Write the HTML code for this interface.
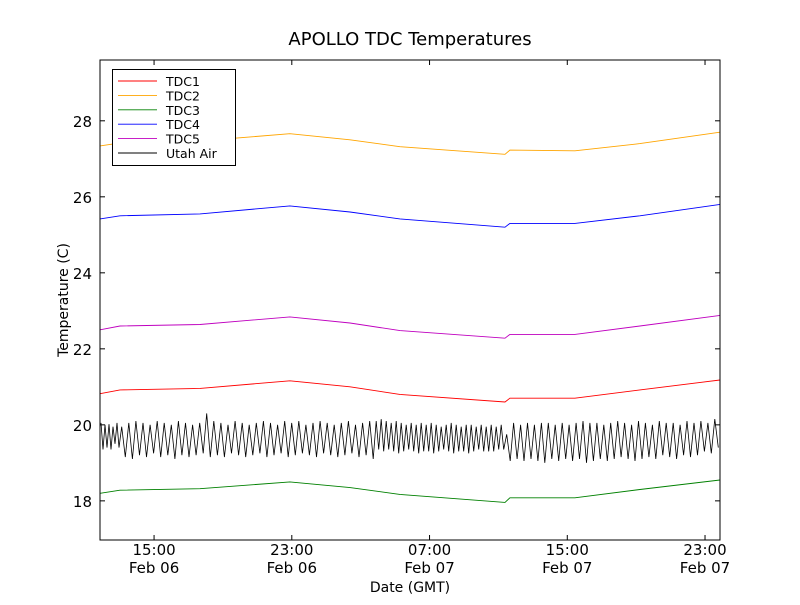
<!DOCTYPE html>
<html><head><meta charset="utf-8"><style>
body{margin:0;background:#fff}
svg text{font-family:"DejaVu Sans","Liberation Sans",sans-serif}
</style></head><body>
<svg id="c" width="800" height="600" xmlns="http://www.w3.org/2000/svg">
<rect width="800" height="600" fill="#fff"/>
<text x="410" y="45" font-size="18" text-anchor="middle">APOLLO TDC Temperatures</text>
<text x="410" y="592" font-size="14" text-anchor="middle">Date (GMT)</text>
<text transform="translate(68,300) rotate(-90)" font-size="14" text-anchor="middle">Temperature (C)</text>
<g id="marks"></g>
<g id="axes"></g>
</svg>
<script>
const hours = [11.86, 13.02, 17.67, 22.89, 26.38, 29.28, 35.38, 35.67, 39.44, 43.22, 47.87];
const tdc1 = [20.82, 20.92, 20.96, 21.16, 21.0, 20.8, 20.6, 20.7, 20.7, 20.92, 21.18];
const tdc2 = [27.34, 27.42, 27.47, 27.66, 27.5, 27.32, 27.12, 27.23, 27.21, 27.4, 27.7];
const tdc3 = [18.2, 18.28, 18.32, 18.5, 18.35, 18.17, 17.96, 18.08, 18.08, 18.3, 18.55];
const tdc4 = [25.42, 25.5, 25.55, 25.76, 25.6, 25.42, 25.2, 25.3, 25.3, 25.5, 25.8];
const tdc5 = [22.5, 22.6, 22.64, 22.84, 22.68, 22.48, 22.28, 22.38, 22.38, 22.6, 22.88];
const airSegStart = [11.86, 13.02, 27.83, 35.38];
const airSegEnd = [13.02, 27.83, 35.38, 47.87];
const airSegCycles = [5, 36, 26, 31];
const airHi = [20.05,20.0,20.02,19.95,20.05,
 19.95,20.05,20.1,20.05,20.0,20.1,20.05,20.0,20.1,20.05,20.0,20.05,20.3,20.1,20.05,20.0,20.1,20.05,20.0,20.05,20.1,20.05,20.0,20.1,20.05,20.1,20.0,20.05,20.1,20.05,20.0,20.05,20.1,20.0,20.05,20.1,
 20.1,20.15,20.1,20.05,20.1,20.05,20.0,20.05,20.0,20.05,20.0,20.05,20.0,19.95,20.0,20.05,20.0,19.95,20.0,20.0,19.95,20.0,19.95,20.0,19.95,20.0,
 19.75,20.05,20.0,20.05,20.0,20.05,20.05,20.0,20.05,20.0,20.05,20.1,20.05,20.05,20.0,20.05,20.1,20.05,20.0,20.1,20.05,20.0,20.1,20.05,20.05,20.0,20.1,20.05,20.1,20.05,20.15];
const airLo = [19.35,19.4,19.35,19.5,19.4,
 19.15,19.1,19.2,19.15,19.25,19.15,19.2,19.1,19.2,19.15,19.2,19.25,19.15,19.2,19.15,19.25,19.2,19.15,19.2,19.25,19.15,19.2,19.25,19.15,19.2,19.25,19.2,19.15,19.25,19.2,19.15,19.2,19.25,19.15,19.2,19.1,
 19.35,19.3,19.35,19.3,19.25,19.3,19.35,19.3,19.25,19.3,19.3,19.25,19.3,19.35,19.3,19.25,19.3,19.3,19.25,19.3,19.35,19.3,19.3,19.3,19.35,19.35,
 19.05,19.1,19.05,19.1,19.05,19.0,19.1,19.05,19.1,19.05,19.1,19.0,19.05,19.1,19.05,19.1,19.15,19.1,19.05,19.1,19.15,19.1,19.2,19.15,19.1,19.2,19.15,19.2,19.3,19.25,19.4];
const yTicks = [18, 20, 22, 24, 26, 28];
const xTickHours = [15, 23, 31, 39, 47];
const xTickTime = ["15:00","23:00","07:00","15:00","23:00"];
const xTickDate = ["Feb 06","Feb 06","Feb 07","Feb 07","Feb 07"];
const seriesNames = ["TDC1","TDC2","TDC3","TDC4","TDC5","Utah Air"];
const seriesColors = ["#ff0000","#ffa500","#008000","#0000ff","#bf00bf","#000000"];

const L=100,R=720,T=60,B=540, X0=11.86,X1=47.87, Y0=16.97,Y1=29.6;
const sx=h=>L+(h-X0)/(X1-X0)*(R-L);
const sy=v=>B-(v-Y0)/(Y1-Y0)*(B-T);
const NS="http://www.w3.org/2000/svg";
function mk(t,a,p){const e=document.createElementNS(NS,t);for(const k in a)e.setAttribute(k,a[k]);p.appendChild(e);return e;}
const marks=document.getElementById('marks'), axes=document.getElementById('axes');
mk('clipPath',{id:'cp'},marks); mk('rect',{x:L,y:T,width:R-L,height:B-T},marks.lastChild);
const series=[tdc1,tdc2,tdc3,tdc4,tdc5];
series.forEach((s,i)=>{
  const d=s.map((v,j)=>(j?'L':'M')+sx(hours[j]).toFixed(1)+','+sy(v).toFixed(1)).join('');
  const p=mk('path',{d:d,fill:'none',stroke:seriesColors[i],'stroke-width':0.9,'clip-path':'url(#cp)'},marks);
  
  
});
let ad='',ci=0;
airSegStart.forEach((st,si)=>{
  const n=airSegCycles[si], per=(airSegEnd[si]-st)/n;
  for(let k=0;k<n;k++,ci++){
    const t=st+k*per;
    ad+=(ad?'L':'M')+sx(t+per*0.25).toFixed(1)+','+sy(airHi[ci]).toFixed(1);
    ad+='L'+sx(t+per*0.75).toFixed(1)+','+sy(airLo[ci]).toFixed(1);
  }
});
const ap=mk('path',{d:ad,fill:'none',stroke:'#000','stroke-width':0.8,'clip-path':'url(#cp)'},marks);



mk('rect',{x:L,y:T,width:R-L,height:B-T,fill:'none',stroke:'#000','stroke-width':1},axes);
yTicks.forEach(v=>{
  const y=sy(v);
  mk('line',{x1:L,x2:L+5,y1:y,y2:y,stroke:'#000'},axes);
  mk('line',{x1:R-5,x2:R,y1:y,y2:y,stroke:'#000'},axes);
  const t=mk('text',{x:L-8,y:y+6,'font-size':15,'text-anchor':'end'},axes); t.textContent=v;
  
  
});
xTickHours.forEach((h,i)=>{
  const x=sx(h);
  mk('line',{x1:x,x2:x,y1:B,y2:B-5,stroke:'#000'},axes);
  mk('line',{x1:x,x2:x,y1:T,y2:T+5,stroke:'#000'},axes);
  const t=mk('text',{x:x,y:B+15,'font-size':15,'text-anchor':'middle'},axes); t.textContent=xTickTime[i];
  
  
  const t2=mk('text',{x:x,y:B+33,'font-size':15,'text-anchor':'middle'},axes); t2.textContent=xTickDate[i];
  
  
});
const lg=mk('g',{},axes);


mk('rect',{x:112.5,y:69.5,width:123,height:96,fill:'#fff',stroke:'#000'},lg);
seriesNames.forEach((n,i)=>{
  const y=81+i*14.4;
  mk('line',{x1:118,x2:157,y1:y,y2:y,stroke:seriesColors[i],'stroke-width':0.9},lg);
  const t=mk('text',{x:166,y:y+5,'font-size':12.5},lg); t.textContent=n;
  
  
});
</script>
</body></html>
